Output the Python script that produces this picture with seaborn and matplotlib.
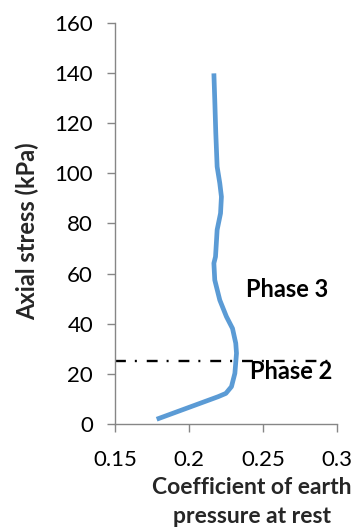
import matplotlib
matplotlib.use("Agg")
import matplotlib.pyplot as plt
import seaborn as sns
import pandas as pd

# Coefficient of earth pressure at rest (K0) versus axial stress
k0_values = [0.178, 0.2196, 0.2248, 0.2286, 0.2309, 0.2320, 0.2315,
             0.2293, 0.2252, 0.2207, 0.2173, 0.2167, 0.2178, 0.2185, 0.2189,
             0.2212, 0.2218, 0.2207, 0.2189, 0.2180, 0.2173, 0.2167]
axial_stress = [1.9, 10.9, 12.2, 14.9, 20.2, 28.2, 32.2,
                38.1, 42.8, 49.4, 57.4, 64.1, 66.7, 73.4, 77.4,
                84.0, 90.6, 96.0, 102.6, 115.9, 129.2, 139.8]

phase_boundary = 25
boundary_extent = [0.15, 0.295]
phase_labels = ["Phase 3", "Phase 2"]
phase_label_k0 = [0.266, 0.269]
phase_label_stress = [53.5, 21.0]

x_ticks = [0.15, 0.2, 0.25, 0.3]
x_tick_labels = ["0.15", "0.2", "0.25", "0.3"]
y_ticks = [0, 20, 40, 60, 80, 100, 120, 140, 160]

sns.set_theme(style="white")
plt.rcParams["font.family"] = ["Lato", "DejaVu Sans"]

fig = plt.figure(figsize=(3.63, 5.32), dpi=100)
ax = fig.add_axes([0.3176, 0.203, 0.6108, 0.7543])

df = pd.DataFrame({"k0": k0_values, "stress": axial_stress})
sns.lineplot(data=df, x="k0", y="stress", sort=False, estimator=None, ax=ax,
             color="#5B9BD5", linewidth=3.4, solid_capstyle="butt",
             solid_joinstyle="round")

ax.plot(boundary_extent, [phase_boundary, phase_boundary], color="black",
        linewidth=1.7, dashes=(4.6, 3.8, 0.85, 4.2), dash_capstyle="butt")

for lbl, kx, sy in zip(phase_labels, phase_label_k0, phase_label_stress):
    ax.text(kx, sy, lbl, ha="center", va="center", fontsize=17,
            fontweight="bold", color="black")

ax.set_xlim(0.15, 0.3)
ax.set_ylim(0, 160)
ax.set_xticks(x_ticks)
ax.set_xticklabels(x_tick_labels)
ax.set_yticks(y_ticks)

gray = "#868686"
for side in ["top", "right"]:
    ax.spines[side].set_visible(False)
for side in ["left", "bottom"]:
    ax.spines[side].set_color(gray)
    ax.spines[side].set_linewidth(1.0)

ax.tick_params(axis="both", which="major", direction="out", length=6,
               width=1.0, color=gray, labelsize=16, labelcolor="black",
               left=True, bottom=True)
ax.tick_params(axis="y", pad=10)
ax.tick_params(axis="x", pad=13)

ax.set_ylabel("Axial stress (kPa)", fontsize=17, fontweight="bold")
ax.yaxis.set_label_coords(-0.398, 0.48)
ax.yaxis.label.set_va("center")

ax.set_xlabel("Coefficient of earth\npressure at rest", fontsize=16.5,
              fontweight="bold", linespacing=1.45)
ax.xaxis.set_label_coords(0.617, -0.132)
ax.xaxis.label.set_va("top")

fig.savefig("out.png", dpi=100)
